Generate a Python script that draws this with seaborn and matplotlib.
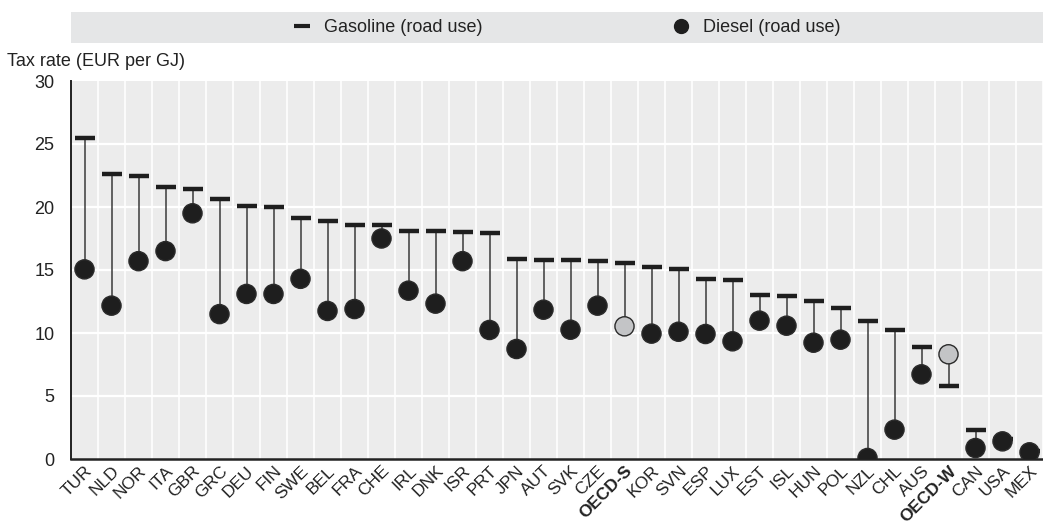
import matplotlib
matplotlib.use("Agg")
import matplotlib.pyplot as plt
import matplotlib.transforms as mtransforms
import seaborn as sns
import pandas as pd
from matplotlib.lines import Line2D
from matplotlib.patches import Rectangle

countries = ["TUR", "NLD", "NOR", "ITA", "GBR", "GRC", "DEU", "FIN", "SWE", "BEL",
             "FRA", "CHE", "IRL", "DNK", "ISR", "PRT", "JPN", "AUT", "SVK", "CZE",
             "OECD-S", "KOR", "SVN", "ESP", "LUX", "EST", "ISL", "HUN", "POL", "NZL",
             "CHL", "AUS", "OECD-W", "CAN", "USA", "MEX"]
gasoline = [25.5, 22.6, 22.5, 21.6, 21.45, 20.6, 20.1, 19.97, 19.15, 18.85,
            18.6, 18.55, 18.07, 18.07, 18.0, 17.94, 15.9, 15.82, 15.82, 15.69,
            15.53, 15.21, 15.08, 14.26, 14.2, 12.99, 12.96, 12.54, 11.96, 10.95,
            10.26, 8.89, 5.79, 2.3, 1.6, 0.65]
diesel = [15.05, 12.17, 15.7, 16.5, 19.5, 11.5, 13.1, 13.1, 14.3, 11.75,
          11.9, 17.5, 13.36, 12.33, 15.7, 10.24, 8.73, 11.85, 10.26, 12.17,
          10.53, 9.95, 10.1, 9.92, 9.34, 10.98, 10.58, 9.23, 9.47, 0.08,
          2.33, 6.72, 8.31, 0.87, 1.4, 0.53]
highlight = ["OECD-S", "OECD-W"]

df = pd.DataFrame({"country": countries, "gasoline": gasoline, "diesel": diesel})
df["pos"] = range(len(df))
df["group"] = ["avg" if c in highlight else "cty" for c in df["country"]]

sns.set_theme(style="white")
FONT = ["Liberation Sans", "DejaVu Sans"]
plt.rcParams["font.family"] = FONT
plt.rcParams["font.size"] = 12

W, H = 1043, 521
fig = plt.figure(figsize=(W / 100, H / 100), dpi=100)
ax = fig.add_axes([71 / W, (H - 459) / H, (W - 71) / W, (459 - 81) / H])
ax.set_facecolor("#ECECEC")

# gridlines
for b in range(len(df)):
    ax.axvline(b + 0.5, color="white", lw=1.2, zorder=0)
for yv in [5, 10, 15, 20, 25]:
    ax.axhline(yv, color="white", lw=1.6, zorder=0)

# connecting lines
ax.vlines(df["pos"], df["gasoline"], df["diesel"], color="#3a3a3a", lw=1.1, zorder=2)

# gasoline dashes
sns.scatterplot(data=df, x="pos", y="gasoline", marker="_", s=200, linewidth=3.2,
                color="#1e1e1e", ax=ax, zorder=3, legend=False)
# diesel circles
sns.scatterplot(data=df, x="pos", y="diesel", hue="group",
                palette={"cty": "#1e1e1e", "avg": "#c3c4c6"}, s=190,
                edgecolor="#2a2a2a", linewidth=1.0, ax=ax, zorder=4, legend=False)

ax.set_xlim(-0.5, 35.18)
ax.set_ylim(0, 30)
ax.set_yticks([0, 5, 10, 15, 20, 25, 30])
ax.set_yticklabels(["0", "5", "10", "15", "20", "25", "30"], fontsize=13, color="#222222")
ax.set_xticks(df["pos"])
ax.set_xticklabels(df["country"], rotation=45, ha="right", va="top",
                   rotation_mode="anchor", fontsize=12.5, color="#222222")
offset = mtransforms.ScaledTranslation(7 / 100, -1 / 100, fig.dpi_scale_trans)
for lbl in ax.get_xticklabels():
    lbl.set_transform(lbl.get_transform() + offset)
    if lbl.get_text() in highlight:
        lbl.set_fontweight("bold")
ax.tick_params(axis="x", length=0, pad=3)
ax.tick_params(axis="y", direction="in", length=6, width=1, color="#8a8a8a", pad=12)
# inner boundary ticks on x
ax.set_xticks([b + 0.5 for b in range(len(df))], minor=True)
ax.tick_params(axis="x", which="minor", direction="in", length=5, width=1, color="#777777")
ax.set_xlabel("")
ax.set_ylabel("")

for s in ["top", "right"]:
    ax.spines[s].set_visible(False)
ax.spines["left"].set_color("#222222")
ax.spines["left"].set_linewidth(1.4)
ax.spines["bottom"].set_color("#222222")
ax.spines["bottom"].set_linewidth(1.8)

fig.text(7 / W, (H - 62) / H, "Tax rate (EUR per GJ)", fontsize=13, color="#222222",
         va="center", ha="left")

# legend band
fig.patches.append(Rectangle((71 / W, (H - 43) / H), (W - 71) / W, 31 / H,
                             transform=fig.transFigure, facecolor="#E5E6E7",
                             edgecolor="none", zorder=0))
handles = [Line2D([], [], color="#1e1e1e", marker="_", ls="none", markersize=12,
                  markeredgewidth=3),
           Line2D([], [], color="#1e1e1e", marker="o", ls="none", markersize=10)]
fig.legend(handles, ["Gasoline (road use)", "Diesel (road use)"], ncol=2,
           loc="center", bbox_to_anchor=(566 / W, (H - 27.5) / H), frameon=False,
           fontsize=13, columnspacing=10.4, handletextpad=0.6, handlelength=1.2,
           labelcolor="#222222")

fig.savefig("out.png", dpi=100)
